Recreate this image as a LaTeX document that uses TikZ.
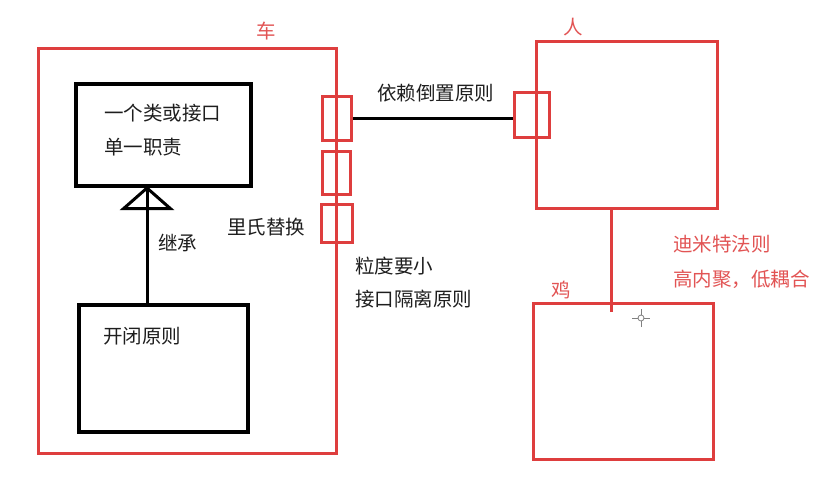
\documentclass[tikz,border=0pt]{standalone}
\usepackage{fontspec}
\setmainfont{Noto Sans CJK SC}
\usetikzlibrary{arrows.meta}
\definecolor{rd}{RGB}{222,62,62}
\definecolor{rt}{RGB}{226,84,84}
\definecolor{tx}{RGB}{30,30,30}
\begin{document}
\begin{tikzpicture}[x=1pt,y=-1pt,
  redbox/.style={draw=rd,line width=3pt,inner sep=0pt,anchor=north west},
  blkbox/.style={draw=black,line width=4pt,inner sep=0pt,anchor=north west},
  lbl/.style={font=\fontsize{19.5}{21}\selectfont,text=tx,inner sep=0pt,anchor=west},
  rlbl/.style={font=\fontsize{19.5}{21}\selectfont,text=rt,inner sep=0pt,anchor=west}]
\useasboundingbox[fill=white] (0,0) rectangle (830,491);
% main boxes
\node[redbox,minimum width=298pt,minimum height=405pt] (car) at (37,47) {};
\node[redbox,minimum width=181pt,minimum height=167pt] (person) at (535,40) {};
\node[redbox,minimum width=180pt,minimum height=156pt] (chicken) at (532,302) {};
\node[blkbox,minimum width=175pt,minimum height=102pt] (b1) at (74,82) {};
\node[blkbox,minimum width=169pt,minimum height=127pt] (b2) at (77,303) {};
% interface boxes
\node[redbox,minimum width=29pt,minimum height=44pt] (ia) at (321,95) {};
\node[redbox,minimum width=28pt,minimum height=43pt] (ib) at (321,150) {};
\node[redbox,minimum width=31pt,minimum height=38pt] (ic) at (320,203) {};
\node[redbox,minimum width=35pt,minimum height=45pt] (ip) at (513,91) {};
% labels
\node[rlbl,anchor=center] (lcar) at (266,31) {车};
\node[rlbl,anchor=center] (lper) at (573,27) {人};
\node[rlbl,anchor=center] (lchk) at (561,290) {鸡};
\node[lbl] (t1) at (104,113) {一个类或接口};
\node[lbl] (t2) at (104,147) {单一职责};
\node[lbl] (t3) at (103,336) {开闭原则};
\node[lbl] (t4) at (158,243) {继承};
\node[lbl] (t5) at (227,227) {里氏替换};
\node[lbl] (t6) at (377,93) {依赖倒置原则};
\node[lbl] (t7) at (355,266) {粒度要小};
\node[lbl] (t8) at (355,299) {接口隔离原则};
\node[rlbl] (t9) at (673,244) {迪米特法则};
\node[rlbl] (t10) at (673,279) {高内聚，低耦合};
% connectors
\coordinate (inh) at (147,303);
\draw[line width=3pt] (inh) -- (inh |- b1.south);
\draw[line width=3pt,-{Triangle[open,length=24pt,width=54pt,line width=3pt]}] (inh) -- ([yshift=2pt]inh |- b1.south);
\draw[line width=3.5pt,black] (ia.east) -- (ia.east -| ip.west);
\coordinate (dtop) at (611,207);
\coordinate (dbot) at (611,312);
\draw[rd,line width=3pt] (dtop) -- (dbot);
% cursor mark
\coordinate (cur) at (641,318);
\draw[gray,line width=0.8pt] (cur) circle (3pt);
\draw[gray,line width=0.8pt] ([xshift=-9pt]cur) -- ([xshift=-3pt]cur) ([xshift=3pt]cur) -- ([xshift=9pt]cur)
  ([yshift=-9pt]cur) -- ([yshift=-3pt]cur) ([yshift=3pt]cur) -- ([yshift=9pt]cur);
\end{tikzpicture}
\end{document}
